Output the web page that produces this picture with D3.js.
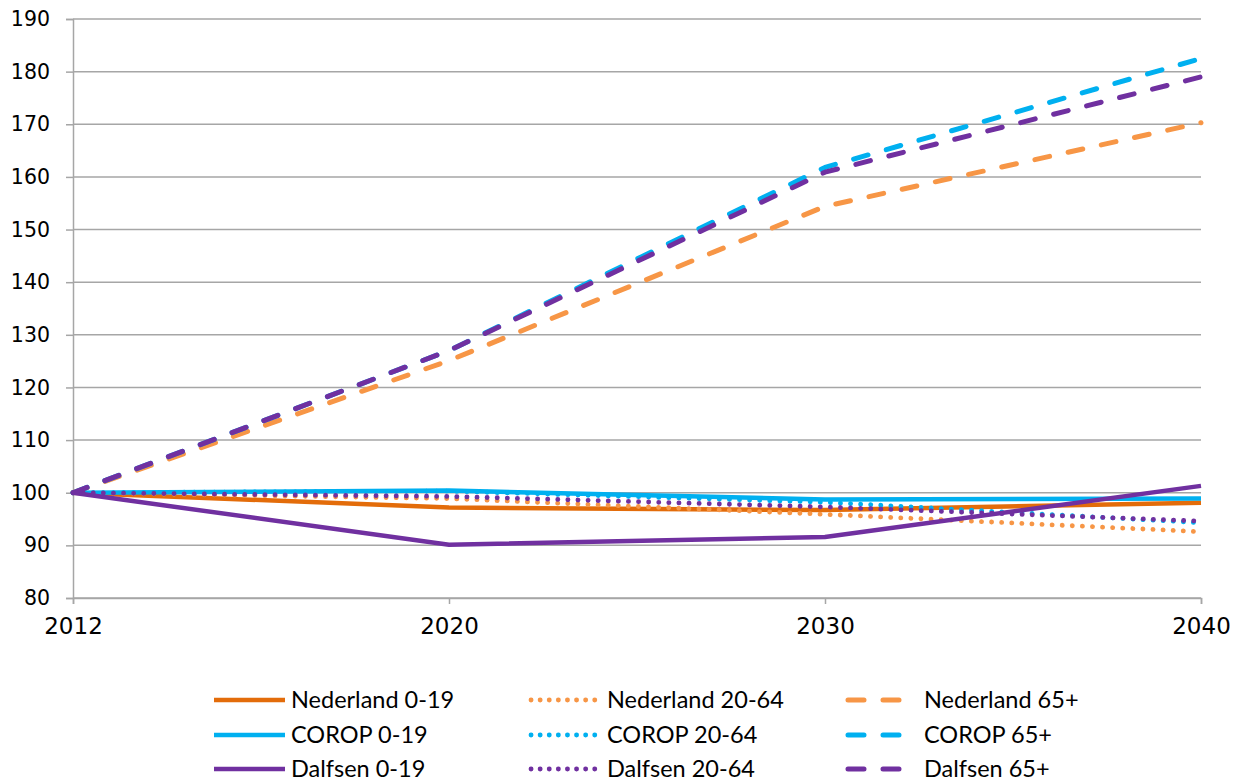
<!DOCTYPE html>
<html>
<head>
<meta charset="utf-8">
<script src="https://cdn.jsdelivr.net/npm/d3@7"></script>
<style>
  html, body { margin: 0; padding: 0; background: #fff; }
  svg { display: block; }
</style>
</head>
<body>
<svg id="chart" width="1233" height="782"></svg>
<script>
// Bevolkingsontwikkeling per leeftijdsgroep, index 2012 = 100
const years = ["2012", "2020", "2030", "2040"];
const yTicks = [80, 90, 100, 110, 120, 130, 140, 150, 160, 170, 180, 190];

const nederland019  = [100, 97.2, 96.7, 98.1];
const nederland2064 = [100, 98.9, 95.9, 92.6];
const nederland65   = [100, 125.1, 154.4, 170.3];
const corop019      = [100, 100.4, 98.7, 98.9];
const corop2064     = [100, 100.3, 98.2, 94.3];
const corop65       = [100, 127.0, 161.8, 182.5];
const dalfsen019    = [100, 90.1, 91.6, 101.3];
const dalfsen2064   = [100, 99.3, 97.3, 94.6];
const dalfsen65     = [100, 127.0, 160.9, 179.0];

const seriesNames = [
  "Nederland 0-19", "Nederland 20-64", "Nederland 65+",
  "COROP 0-19", "COROP 20-64", "COROP 65+",
  "Dalfsen 0-19", "Dalfsen 20-64", "Dalfsen 65+"
];
const seriesValues = [
  nederland019, nederland2064, nederland65,
  corop019, corop2064, corop65,
  dalfsen019, dalfsen2064, dalfsen65
];

const colors = {
  "Nederland 0-19": "#E36C0A", "Nederland 20-64": "#F79646", "Nederland 65+": "#F79646",
  "COROP 0-19": "#00B0F0", "COROP 20-64": "#00B0F0", "COROP 65+": "#00B0F0",
  "Dalfsen 0-19": "#7030A0", "Dalfsen 20-64": "#7030A0", "Dalfsen 65+": "#7030A0"
};
const styleOf = name => name.endsWith("0-19") ? "solid" : name.endsWith("20-64") ? "dot" : "dash";
const lineStyles = {
  solid: { width: 4.5, dash: null, cap: "butt" },
  dot:   { width: 4.8, dash: "0.1,10", cap: "round" },
  dash:  { width: 5, dash: "15,19", cap: "round" }
};

const series = seriesNames.map((name, i) => ({
  name, style: styleOf(name), color: colors[name],
  values: years.map((y, j) => ({ year: y, value: seriesValues[i][j] }))
}));

const svg = d3.select("#chart");
const plot = { left: 73, right: 1201, top: 19, bottom: 598 };

const x = d3.scalePoint().domain(years).range([plot.left, plot.right]);
const y = d3.scaleLinear().domain([80, 190]).range([plot.bottom, plot.top]);

const gridColor = "#A6A6A6";
const fontTicks = "'DejaVu Sans', Verdana, sans-serif";
const fontLegend = "Lato, 'Open Sans', sans-serif";

// Horizontal gridlines
svg.append("g")
  .selectAll("line")
  .data(yTicks)
  .join("line")
  .attr("x1", plot.left).attr("x2", plot.right)
  .attr("y1", d => y(d)).attr("y2", d => y(d))
  .attr("stroke", gridColor).attr("stroke-width", 1.5);

// Y axis
const yAxis = svg.append("g")
  .attr("transform", `translate(${plot.left},0)`)
  .call(d3.axisLeft(y).tickValues(yTicks).tickSize(7).tickPadding(16).tickFormat(d3.format("d")));
yAxis.select(".domain").attr("stroke", gridColor).attr("stroke-width", 1.5);
yAxis.selectAll(".tick line").attr("stroke", gridColor).attr("stroke-width", 1.5);
yAxis.selectAll(".tick text")
  .attr("font-family", fontTicks).attr("font-size", 20.5).attr("fill", "#000");

// X axis
const xAxis = svg.append("g")
  .attr("transform", `translate(0,${plot.bottom})`)
  .call(d3.axisBottom(x).tickSize(6).tickPadding(14));
xAxis.select(".domain").attr("stroke", gridColor).attr("stroke-width", 1.5);
xAxis.selectAll(".tick line").attr("stroke", gridColor).attr("stroke-width", 1.5);
xAxis.selectAll(".tick text")
  .attr("font-family", fontTicks).attr("font-size", 23).attr("fill", "#000");

// Series lines
const line = d3.line().x(d => x(d.year)).y(d => y(d.value));
svg.append("g")
  .selectAll("path")
  .data(series)
  .join("path")
  .attr("d", d => line(d.values))
  .attr("fill", "none")
  .attr("stroke", d => d.color)
  .attr("stroke-width", d => lineStyles[d.style].width)
  .attr("stroke-dasharray", d => lineStyles[d.style].dash)
  .attr("stroke-linecap", d => lineStyles[d.style].cap)
  .attr("stroke-linejoin", "round");

// Legend: three columns (0-19, 20-64, 65+), rows per region
const legendCols = [
  { x1: 214, x2: 285, tx: 291 },
  { x1: 531, x2: 597, tx: 607 },
  { x1: 848, x2: 902, tx: 924 }
];
const legendRows = [700, 735, 769];
const legend = svg.append("g")
  .selectAll("g")
  .data(series)
  .join("g")
  .attr("transform", (d, i) => `translate(0,${legendRows[Math.floor(i / 3)]})`);
legend.append("line")
  .attr("x1", (d, i) => legendCols[i % 3].x1)
  .attr("x2", (d, i) => legendCols[i % 3].x2)
  .attr("stroke", d => d.color)
  .attr("stroke-width", d => lineStyles[d.style].width)
  .attr("stroke-dasharray", d => d.style === "dot" ? "0.1,9" : d.style === "dash" ? "16,19" : null)
  .attr("stroke-linecap", d => lineStyles[d.style].cap);
legend.append("text")
  .attr("x", (d, i) => legendCols[i % 3].tx)
  .attr("y", 8)
  .attr("font-family", fontLegend)
  .attr("font-size", 23.5)
  .attr("fill", "#000")
  .text(d => d.name);
</script>
</body>
</html>
